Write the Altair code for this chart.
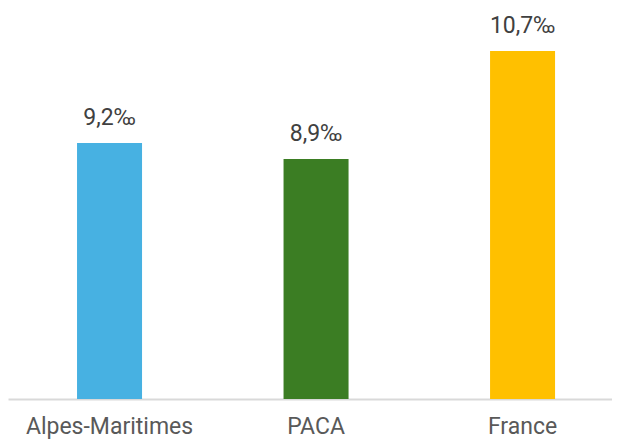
import altair as alt
import pandas as pd

categories = ["Alpes-Maritimes", "PACA", "France"]
values = [9.2, 8.94, 10.71]
colors = ["#47B1E2", "#3B7D23", "#FFC000"]

labels = [f"{v:.1f}".replace(".", ",") + "‰" for v in values]
df = pd.DataFrame({"cat": categories, "val": values, "label": labels, "color": colors})

FONT = "Roboto"

x = alt.X(
    "cat:N",
    sort=categories,
    title=None,
    scale=alt.Scale(paddingInner=0.6852, paddingOuter=0.305, align=0.548),
    axis=alt.Axis(
        labelAngle=0,
        labelFont=FONT,
        labelFontSize=23,
        labelColor="#595959",
        labelBaseline="alphabetic",
        labelPadding=34,
        ticks=False,
        tickSize=0,
        domainColor="#D9D9D9",
        domainWidth=2,
        labelOverlap=False,
    ),
)
y = alt.Y(
    "val:Q",
    title=None,
    scale=alt.Scale(domain=[5, 11.4], nice=False, zero=False),
    axis=None,
)

bars = alt.Chart(df).mark_bar(clip=True).encode(
    x=x, y=y, y2=alt.datum(5), color=alt.Color("color:N", scale=None)
)
text = alt.Chart(df).mark_text(
    font=FONT, fontSize=23, color="#404040", baseline="alphabetic", dy=-18
).encode(x=alt.X("cat:N", sort=categories), y="val:Q", text="label:N")

chart = (
    alt.layer(bars, text)
    .properties(
        width=604,
        height=390,
        background="#FFFFFF",
        autosize=alt.AutoSizeParams(type="none"),
        padding={"left": 0, "top": 1, "right": 0, "bottom": 40},
    )
    .configure_view(strokeWidth=0, stroke="transparent")
)

chart.save("out.html", embed_options={"renderer": "svg", "actions": False})
